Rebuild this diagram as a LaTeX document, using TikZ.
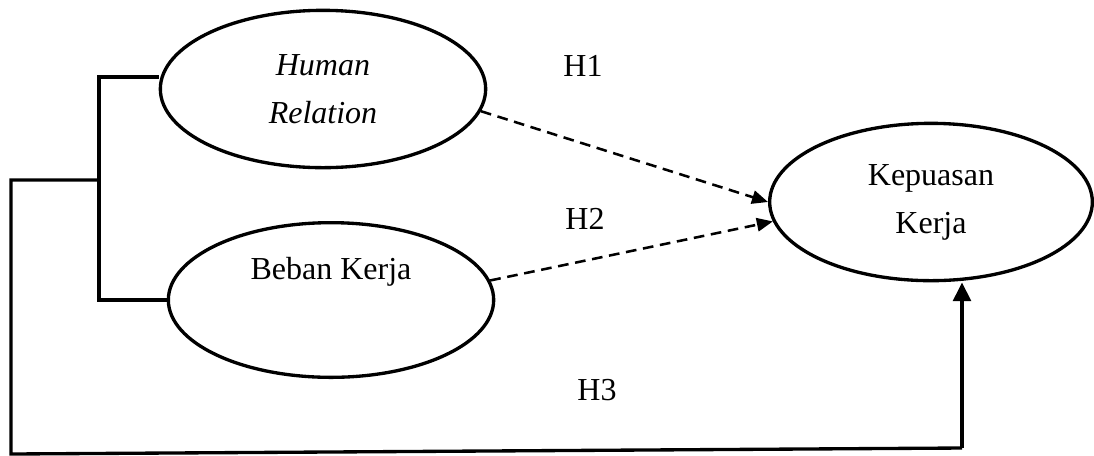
\documentclass[tikz,border=0pt]{standalone}
\usepackage{fontspec}
\setmainfont{Liberation Serif}
\usetikzlibrary{shapes.geometric,arrows.meta}
\tikzset{
  oval/.style={ellipse, draw, line width=2.5pt, inner sep=0pt, align=center,
    font=\fontsize{24}{36}\selectfont},
  lbl/.style={font=\fontsize{24}{28}\selectfont, inner sep=0pt},
  conn/.style={line width=2.5pt},
  hyp/.style={line width=1.9pt, dash pattern=on 8pt off 5pt,
    -{Triangle[length=12pt,width=10pt]}},
  mainarrow/.style={line width=3.2pt, -{Triangle[length=14pt,width=13pt]}}
}
\begin{document}
\begin{tikzpicture}[x=0.75pt,y=-0.75pt]
\useasboundingbox (0,0) rectangle (1094,455);
\node[oval, minimum width=244pt, minimum height=118pt] (hr) at (323,89) {\textit{Human}\\\textit{Relation}};
\node[oval, minimum width=244pt, minimum height=116pt] (bk) at (331,300) {Beban Kerja\\\strut};
\node[oval, minimum width=242pt, minimum height=118pt] (kk) at (931,202) {Kepuasan\\Kerja};
\node[lbl] (h1) at (583,66) {H1};
\node[lbl] (h2) at (585,219) {H2};
\node[lbl] (h3) at (597,390) {H3};
\coordinate (bt) at (99,77);
\coordinate (bb) at (99,300);
\coordinate (bm) at (99,180);
\coordinate (lt) at (11,180);
\coordinate (lb) at (11,454);
\coordinate (rb) at (962,448);
\draw[conn] (hr.west |- bt) -- (bt) -- (bb) -- (bk.west);
\draw[conn] (bm) -- (lt) -- (lb) -- (rb);
\draw[mainarrow] (rb) -- (rb |- kk.south);
\draw[hyp] (hr.-8.5) -- (kk.180);
\draw[hyp] (bk.7) -- (kk.187);
\end{tikzpicture}
\end{document}
